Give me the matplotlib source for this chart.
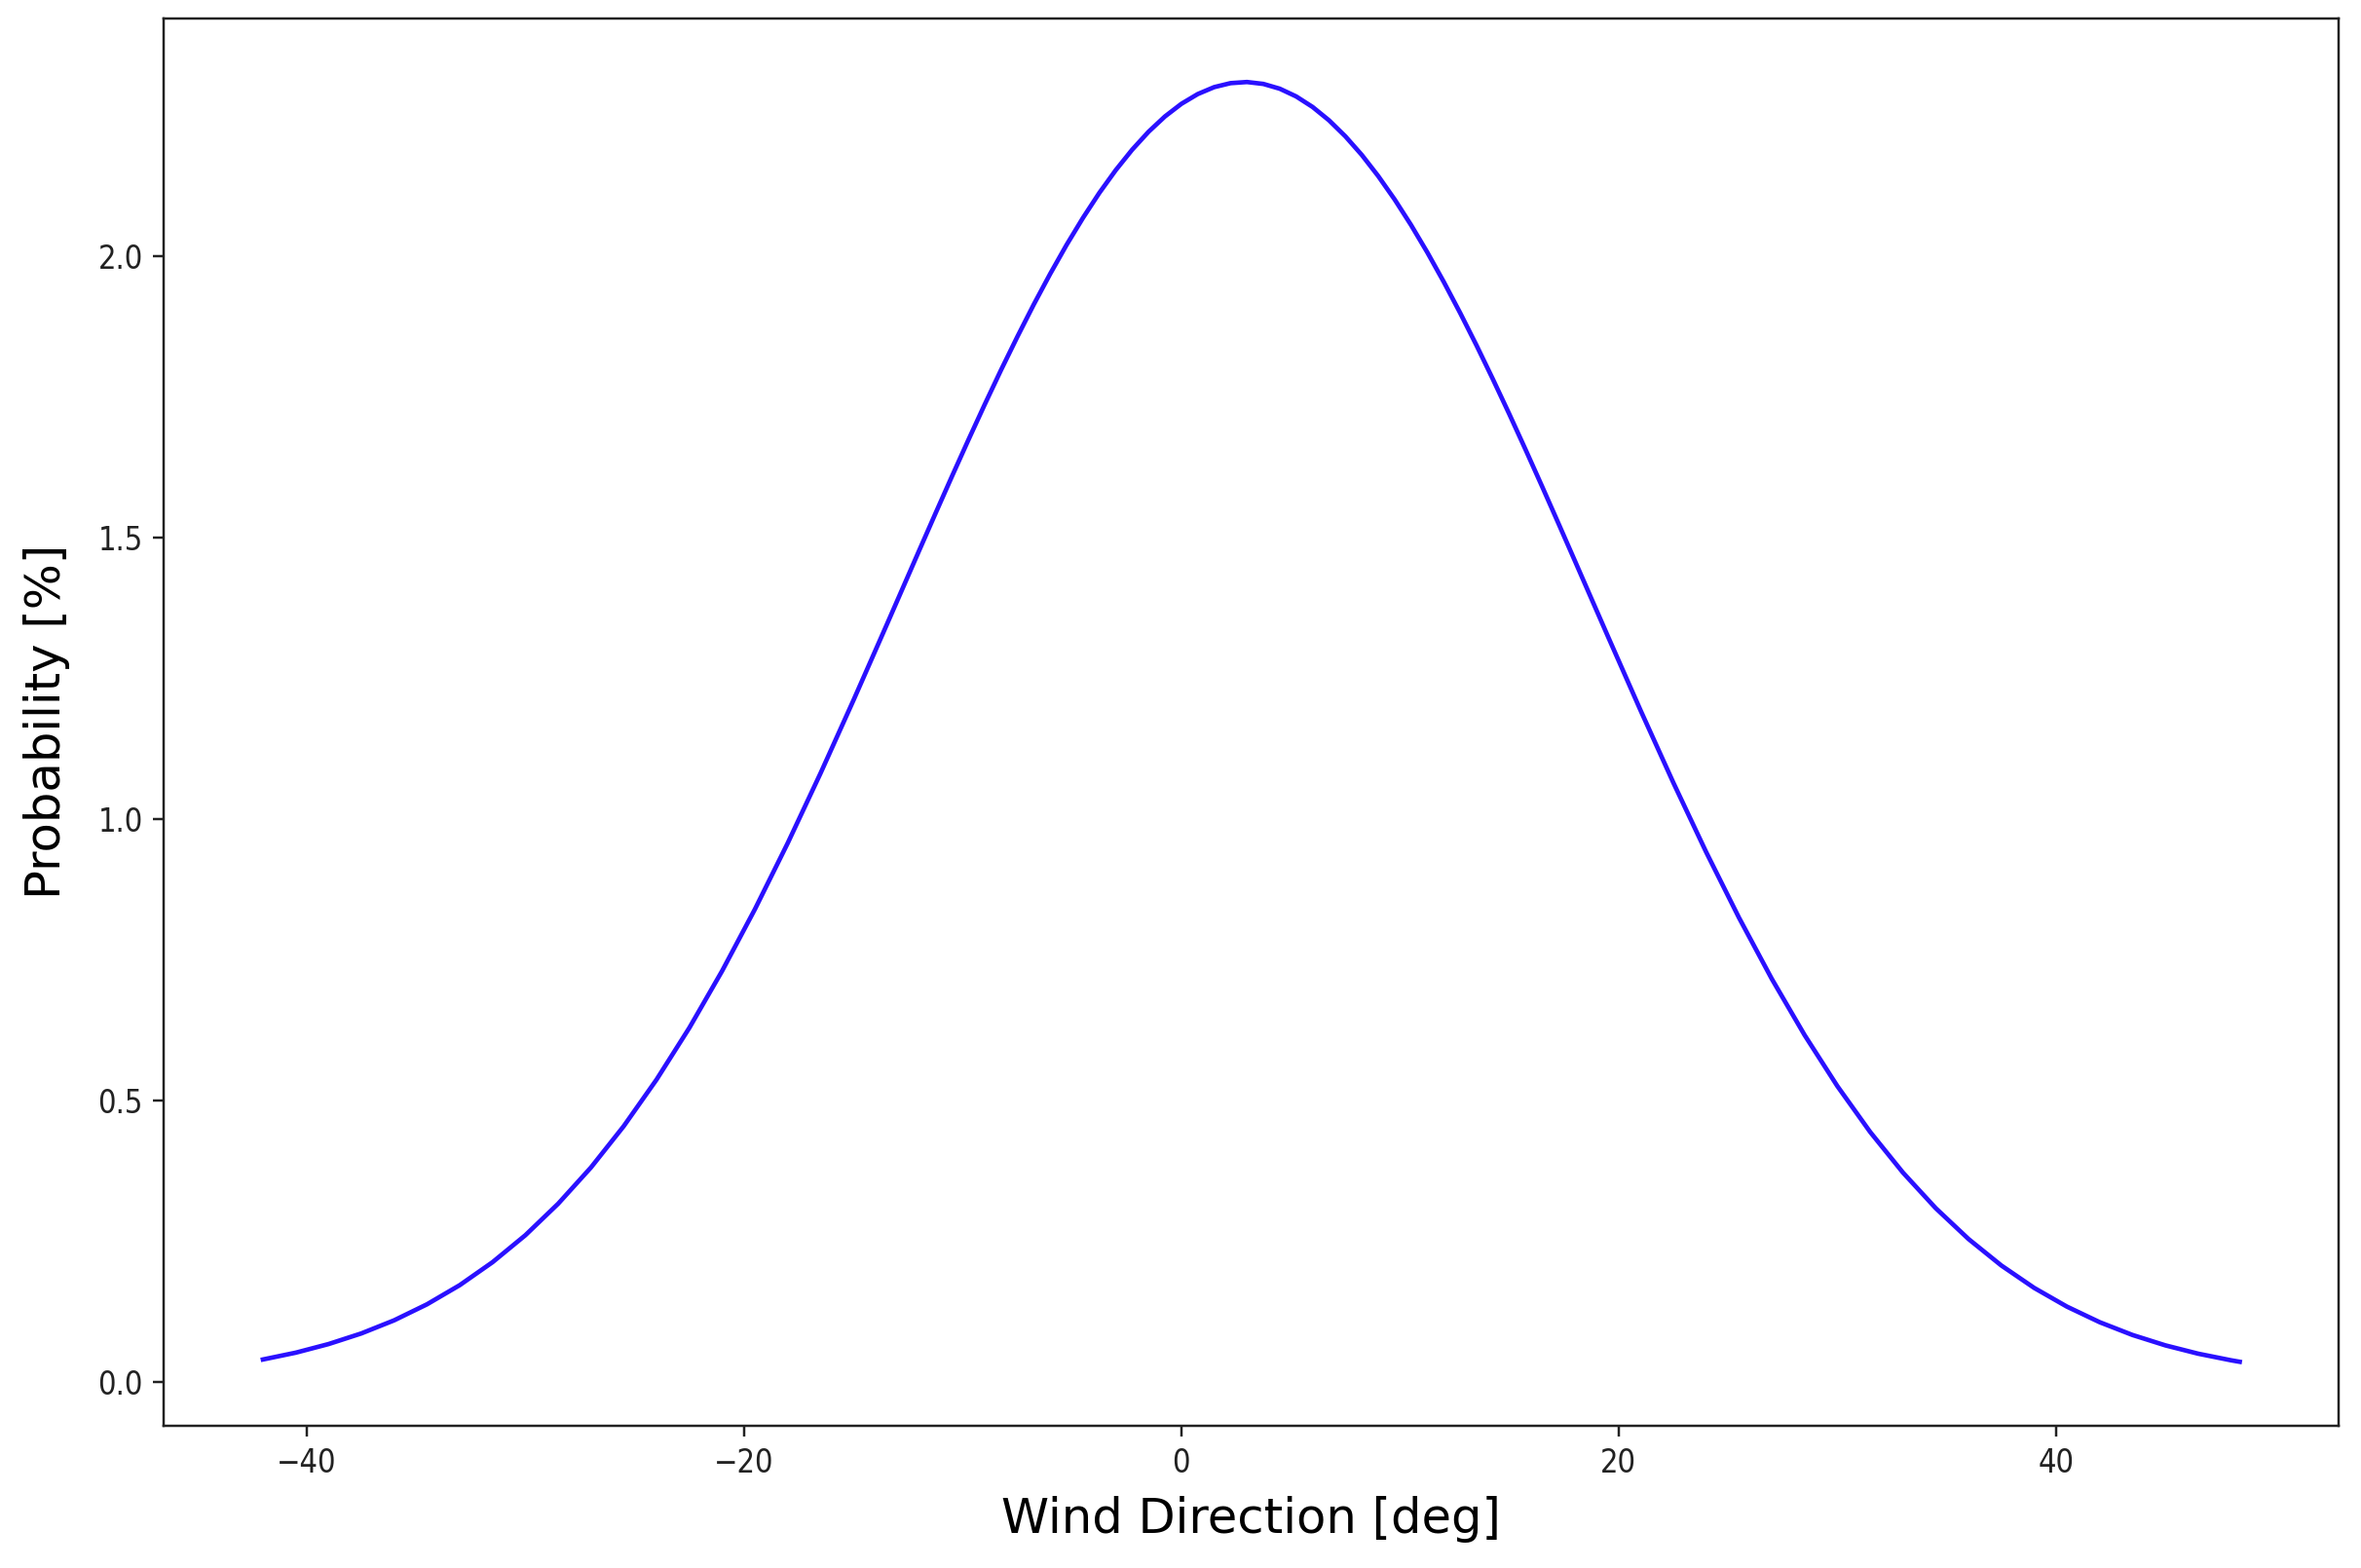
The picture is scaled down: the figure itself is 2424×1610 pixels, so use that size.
import matplotlib
matplotlib.use("Agg")
import matplotlib.pyplot as plt

# Values
wind_direction = [-42.0, -40.5, -39.0, -37.5, -36.0, -34.5, -33.0, -31.5, -30.0, -28.5,
                  -27.0, -25.5, -24.0, -22.5, -21.0, -19.5, -18.0, -16.5, -15.0,
                  -13.5, -12.75, -12.0, -11.25, -10.5, -9.75, -9.0, -8.25, -7.5, -6.75,
                  -6.0, -5.25, -4.5, -3.75, -3.0, -2.25, -1.5, -0.75, 0.0, 0.75,
                  1.5, 2.25, 3.0, 3.75, 4.5, 5.25, 6.0, 6.75, 7.5, 8.25,
                  9.0, 9.75, 10.5, 11.25, 12.0, 12.75, 13.5, 14.25, 15.0, 15.75,
                  16.5, 17.25, 18.0, 18.75, 19.5,
                  21.0, 22.5, 24.0, 25.5, 27.0, 28.5, 30.0, 31.5,
                  33.0, 34.5, 36.0, 37.5, 39.0, 40.5, 42.0, 43.5, 45.0, 46.5,
                  48.0, 48.4]
probability = [0.0397, 0.0518, 0.0671, 0.0860, 0.1093, 0.1377, 0.1718, 0.2126, 0.2605, 0.3165,
               0.3809, 0.4544, 0.5371, 0.6291, 0.7303, 0.8400, 0.9575, 1.0816, 1.2108,
               1.3431, 1.4098, 1.4765, 1.5428, 1.6084, 1.6730, 1.7363, 1.7979, 1.8573, 1.9146,
               1.9690, 2.0205, 2.0685, 2.1130, 2.1534, 2.1897, 2.2216, 2.2488, 2.2712, 2.2886,
               2.3009, 2.3080, 2.3100, 2.3066, 2.2981, 2.2844, 2.2657, 2.2420, 2.2135, 2.1805,
               2.1430, 2.1015, 2.0561, 2.0071, 1.9548, 1.8996, 1.8418, 1.7816, 1.7196, 1.6559,
               1.5910, 1.5251, 1.4587, 1.3920, 1.3254,
               1.1933, 1.0647, 0.9414, 0.8249, 0.7162, 0.6163, 0.5255, 0.4440,
               0.3718, 0.3085, 0.2537, 0.2067, 0.1669, 0.1336, 0.1059, 0.0832, 0.0648, 0.0500,
               0.0383, 0.0356]

S = 2.232  # scale factor from points to the enlarged figure

fig = plt.figure(figsize=(24.24, 16.10), dpi=100)
ax = fig.add_axes([0.0695, 0.0907, 0.921, 0.8978])

ax.plot(wind_direction, probability, color="#2a10ff", linewidth=1.5 * S,
        solid_joinstyle="round")

ax.set_xlabel("Wind Direction [deg]", fontsize=16 * S, labelpad=5.5 * S)
ax.set_ylabel("Probability [%]", fontsize=16 * S, labelpad=20)

for sp in ax.spines.values():
    sp.set_linewidth(0.8 * S)
    sp.set_color("#222222")

ax.tick_params(axis="both", length=3.5 * S, width=0.8 * S, pad=3.5 * S,
               labelsize=10.5 * S, color="#222222", labelcolor="#222222")
for lab in ax.get_xticklabels() + ax.get_yticklabels():
    lab.set_fontstretch("condensed")

fig.savefig("out.png", dpi=100)
